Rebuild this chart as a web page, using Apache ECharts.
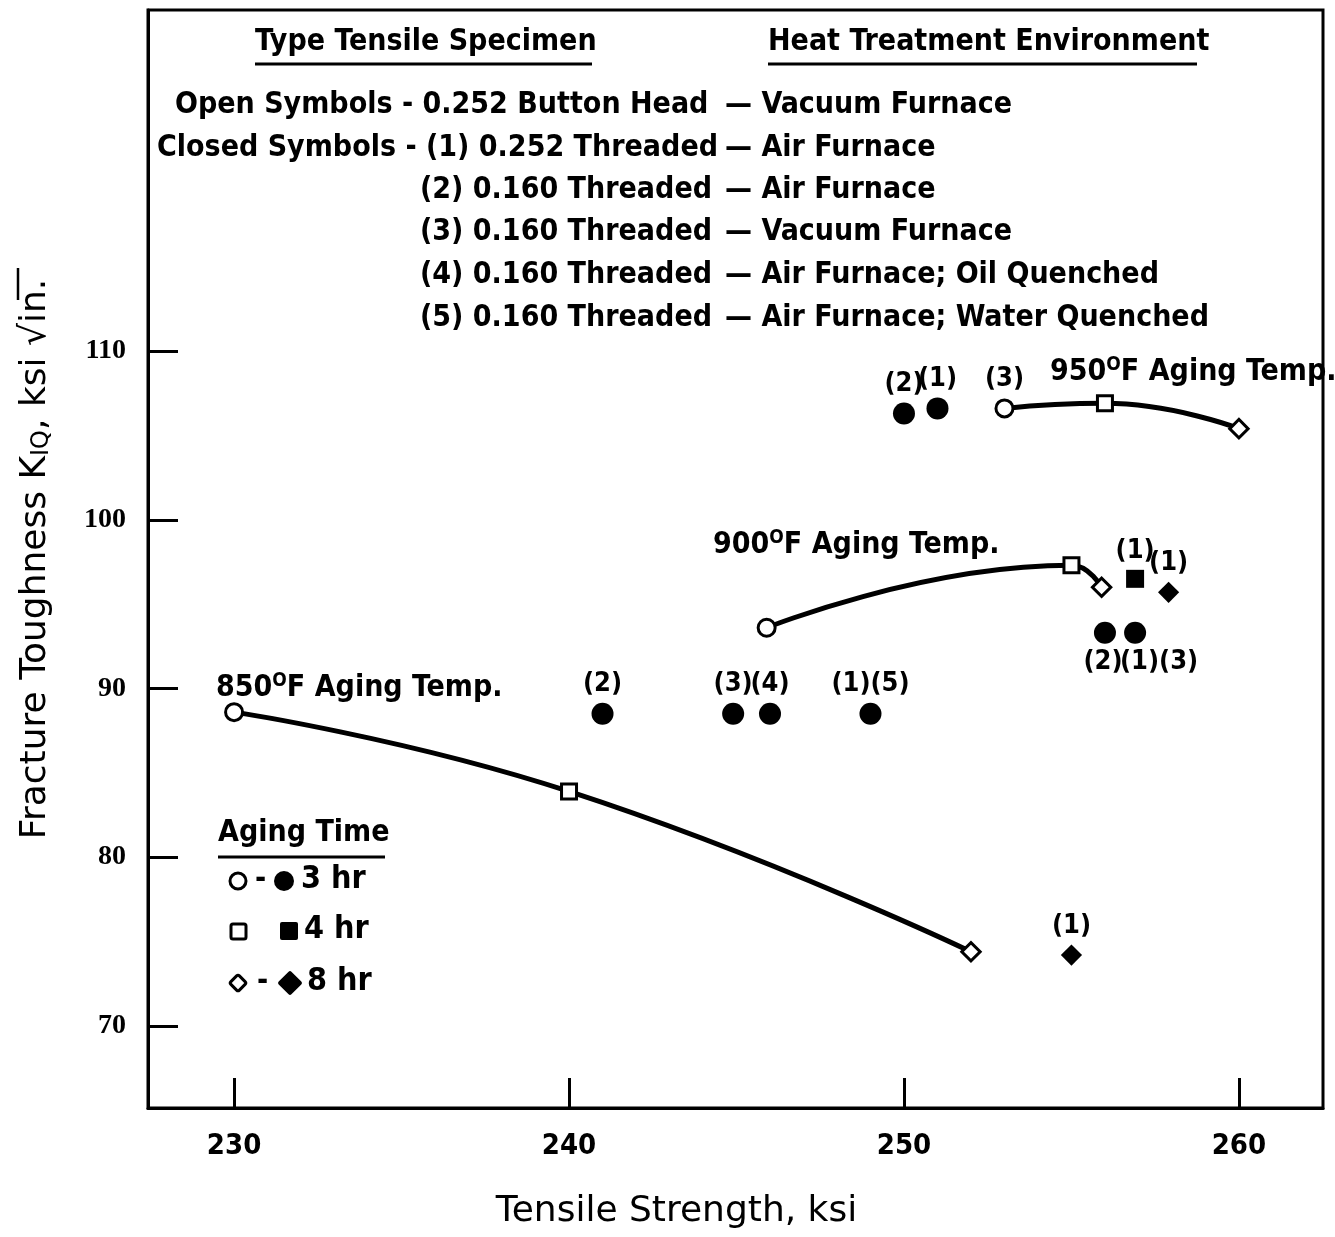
<!DOCTYPE html>
<html>
<head>
<meta charset="utf-8">
<title>Fracture Toughness vs Tensile Strength</title>
<script src="https://cdn.jsdelivr.net/npm/echarts@6/dist/echarts.min.js"></script>
<style>
  html, body { margin: 0; padding: 0; background: #fff; }
  #chart { width: 1335px; height: 1237px; }
</style>
</head>
<body>
<div id="chart"></div>
<script>
// ---- data ----
const xTicks = [230, 240, 250, 260];
const yTicks = [70, 80, 90, 100, 110];

// open symbols (0.252 button head, vacuum furnace), joined by curves; 3 hr, 4 hr, 8 hr
const curve850X = [230, 240, 252];
const curve850Y = [88.6, 83.9, 74.4];
const curve900X = [245.9, 255, 255.9];
const curve900Y = [93.6, 97.3, 96.0];
const curve950X = [253, 256, 260];
const curve950Y = [106.6, 106.9, 105.4];
const curve950Labels = ['(3)', '', ''];

// closed symbols
const closedCircleX = [250, 251, 241, 244.9, 246, 249];
const closedCircleY = [106.3, 106.6, 88.5, 88.5, 88.5, 88.5];
const closedCircleLabels = ['(2)', '(1)', '(2)', '(3)', '(4)', '(1)(5)'];
const closedCircleLowX = [256, 256.9];
const closedCircleLowY = [93.3, 93.3];
const closedCircleLowLabels = ['(2)', '(1)(3)'];
const closedSquareX = [256.9];
const closedSquareY = [96.5];
const closedSquareLabels = ['(1)'];
const closedDiamondX = [257.9, 255];
const closedDiamondY = [95.7, 74.2];
const closedDiamondLabels = ['(1)', '(1)'];

const specimenRows = [
  'Open Symbols - 0.252 Button Head',
  'Closed Symbols - (1) 0.252 Threaded',
  '(2) 0.160 Threaded',
  '(3) 0.160 Threaded',
  '(4) 0.160 Threaded',
  '(5) 0.160 Threaded'
];
const environmentRows = [
  '\u2014 Vacuum Furnace',
  '\u2014 Air Furnace',
  '\u2014 Air Furnace',
  '\u2014 Vacuum Furnace',
  '\u2014 Air Furnace; Oil Quenched',
  '\u2014 Air Furnace; Water Quenched'
];
const agingTimes = ['3 hr', '4 hr', '8 hr'];

// ---- styling ----
const FONT = "'DejaVu Sans Condensed', 'Liberation Sans Narrow', sans-serif";
const NAME_FONT = "'DejaVu Sans', sans-serif";
const BLACK = '#000';

const chart = echarts.init(document.getElementById('chart'));

const openSymbols = ['circle', 'rect', 'rect'];
const openSizes = [17, 15, 13];
const openRotate = [0, 0, 45];

function openCurve(xs, ys, labels) {
  return {
    type: 'line',
    smooth: 0.5,
    lineStyle: { color: BLACK, width: 5 },
    itemStyle: { color: '#fff', borderColor: BLACK, borderWidth: 3, opacity: 1 },
    z: 3,
    data: xs.map((x, i) => ({
      value: [x, ys[i]],
      symbol: openSymbols[i],
      symbolSize: openSizes[i],
      symbolRotate: openRotate[i],
      label: {
        show: !!(labels && labels[i]),
        formatter: labels ? labels[i] : '',
        position: 'top',
        distance: 6,
        fontFamily: FONT, fontWeight: 'bold', fontSize: 27, color: BLACK
      }
    }))
  };
}

function closedScatter(xs, ys, labels, symbol, size, rotate, pos) {
  return {
    type: 'scatter',
    symbol: symbol,
    symbolSize: size,
    symbolRotate: rotate,
    itemStyle: { color: BLACK, opacity: 1 },
    z: 4,
    label: {
      show: true,
      position: pos,
      distance: 5,
      fontFamily: FONT, fontWeight: 'bold', fontSize: 27, color: BLACK,
      formatter: p => labels[p.dataIndex]
    },
    data: xs.map((x, i) => [x, ys[i]])
  };
}

const lowLabelsSeries = closedScatter(closedCircleLowX, closedCircleLowY, closedCircleLowLabels, 'circle', 22, 0, 'bottom');
lowLabelsSeries.data = lowLabelsSeries.data.map((d, i) => ({
  value: d,
  label: { offset: i === 1 ? [24, 0] : [-2, 0] }
}));

const txt = (text, x, y, opts) => ({
  type: 'text',
  x: x, y: y,
  style: Object.assign({
    text: text,
    font: 'bold 30px ' + FONT,
    fill: BLACK,
    textAlign: 'left',
    textVerticalAlign: 'middle'
  }, opts || {})
});
const hline = (x1, x2, y, w) => ({
  type: 'line',
  shape: { x1: x1, y1: y, x2: x2, y2: y },
  style: { stroke: BLACK, lineWidth: w || 3 }
});
const degreeText = (temp, x, y) => ({
  type: 'text',
  x: x, y: y,
  style: {
    text: temp + '{sup|O}F Aging Temp.',
    font: 'bold 30px ' + FONT,
    fill: BLACK,
    textVerticalAlign: 'middle',
    rich: {
      sup: { fontFamily: FONT, fontWeight: 'bold', fontSize: 19, verticalAlign: 'top', padding: [0, 0, 14, 0] }
    }
  }
});

const rowYs = [105, 148, 190, 232, 275, 318];
const rowXs = [175, 157, 420, 420, 420, 420];
const graphics = [
  txt('Type Tensile Specimen', 255, 42),
  hline(255, 592, 64),
  txt('Heat Treatment Environment', 768, 42),
  hline(768, 1197, 64),
  degreeText('850', 216, 688),
  degreeText('900', 713, 545),
  degreeText('950', 1050, 372),
  // aging time key
  txt('Aging Time', 218, 833),
  hline(218, 385, 857),
  { type: 'circle', shape: { cx: 238, cy: 881, r: 8 }, style: { fill: '#fff', stroke: BLACK, lineWidth: 3 } },
  txt('-', 255, 880),
  { type: 'circle', shape: { cx: 284, cy: 881, r: 10 }, style: { fill: BLACK } },
  txt(agingTimes[0], 301, 880, { font: 'bold 32px ' + FONT }),
  { type: 'rect', shape: { x: 231, y: 924, width: 15, height: 15, r: 2 }, style: { fill: '#fff', stroke: BLACK, lineWidth: 3 } },
  { type: 'rect', shape: { x: 280, y: 922, width: 18, height: 18, r: 2 }, style: { fill: BLACK } },
  txt(agingTimes[1], 304, 930, { font: 'bold 32px ' + FONT }),
  { type: 'rect', x: 238, y: 983, rotation: Math.PI / 4, shape: { x: -6, y: -6, width: 12, height: 12, r: 2 }, style: { fill: '#fff', stroke: BLACK, lineWidth: 3 } },
  txt('-', 257, 982),
  { type: 'rect', x: 290, y: 983, rotation: Math.PI / 4, shape: { x: -9, y: -9, width: 18, height: 18, r: 2 }, style: { fill: BLACK } },
  txt(agingTimes[2], 307, 982, { font: 'bold 32px ' + FONT }),
  // overline of the root sign in the y axis name
  { type: 'line', id: 'rootBar', shape: { x1: 18, y1: 268, x2: 18, y2: 300 }, style: { stroke: BLACK, lineWidth: 2.5 } }
];
specimenRows.forEach((s, i) => graphics.push(txt(s, rowXs[i], rowYs[i])));
environmentRows.forEach((s, i) => graphics.push(txt(s, 725, rowYs[i])));

const option = {
  backgroundColor: '#fff',
  animation: false,
  grid: {
    left: 148, right: 12, top: 10, bottom: 129,
    show: true, borderColor: BLACK, borderWidth: 3, backgroundColor: '#fff'
  },
  xAxis: {
    type: 'value',
    min: 227.43, max: 262.51,
    name: 'Tensile Strength, ksi',
    nameLocation: 'middle',
    nameGap: 86,
    nameTextStyle: { fontFamily: NAME_FONT, fontSize: 36, color: BLACK, padding: [0, 118, 0, 0] },
    axisLine: { lineStyle: { color: BLACK, width: 3 } },
    axisTick: { inside: true, length: 30, lineStyle: { color: BLACK, width: 3 }, customValues: xTicks },
    axisLabel: {
      customValues: xTicks, margin: 24,
      fontFamily: FONT, fontWeight: 'bold', fontSize: 29, color: BLACK
    },
    splitLine: { show: false }
  },
  yAxis: {
    type: 'value',
    min: 65.14, max: 130.21,
    name: 'Fracture Toughness K{sub|IQ}, ksi \u221Ain.',
    nameLocation: 'middle',
    nameGap: 94,
    nameTextStyle: {
      fontFamily: NAME_FONT, fontSize: 36, color: BLACK,
      rich: { sub: { fontFamily: NAME_FONT, fontSize: 24, verticalAlign: 'bottom', padding: [12, 0, 0, 0] } }
    },
    axisLine: { lineStyle: { color: BLACK, width: 3 } },
    axisTick: { inside: true, length: 30, lineStyle: { color: BLACK, width: 3 }, customValues: yTicks },
    axisLabel: {
      customValues: yTicks, margin: 22,
      fontFamily: "'Liberation Serif', 'DejaVu Serif', serif", fontWeight: 'bold', fontSize: 28, color: BLACK
    },
    splitLine: { show: false }
  },
  series: [
    openCurve(curve850X, curve850Y),
    openCurve(curve900X, curve900Y),
    openCurve(curve950X, curve950Y, curve950Labels),
    closedScatter(closedCircleX, closedCircleY, closedCircleLabels, 'circle', 22, 0, 'top'),
    lowLabelsSeries,
    closedScatter(closedSquareX, closedSquareY, closedSquareLabels, 'rect', 18, 0, 'top'),
    closedScatter(closedDiamondX, closedDiamondY, closedDiamondLabels, 'rect', 15, 45, 'top')
  ],
  graphic: graphics
};

chart.setOption(option);
</script>
</body>
</html>
